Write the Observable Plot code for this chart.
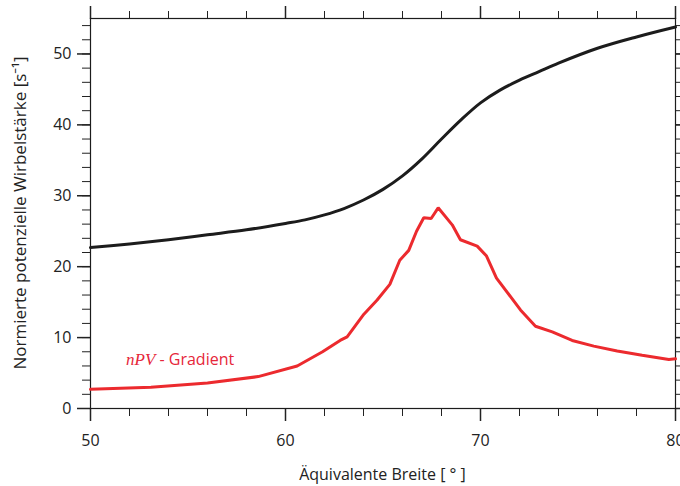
<!DOCTYPE html>
<html><head><meta charset="utf-8">
<script src="https://cdn.jsdelivr.net/npm/d3@7"></script>
<script src="https://cdn.jsdelivr.net/npm/@observablehq/plot@0.6"></script>
<style>body{margin:0;background:#fff;overflow:hidden}</style>
</head><body><div id="chart"></div>
<script>
// Normierte potenzielle Wirbelstärke (schwarz)
const pvLat = [50, 52, 54, 56, 58, 60, 61, 62, 63, 64, 65, 66, 67, 68, 69, 70, 71, 72, 73, 74, 76, 78, 80];
const pvValue = [22.7, 23.2, 23.8, 24.5, 25.2, 26.1, 26.6, 27.3, 28.2, 29.4, 30.9, 32.8, 35.2, 38.0, 40.7, 43.1, 44.9, 46.3, 47.5, 48.7, 50.8, 52.4, 53.8];
// nPV-Gradient (rot)
const gradLat = [50.0, 53.1, 56.0, 58.6, 60.6, 61.9, 62.8, 63.16, 64.02, 64.70, 65.35, 65.86, 66.32, 66.72, 67.09, 67.47, 67.83, 68.55, 68.97, 69.83, 70.31, 70.82, 72.05, 72.82, 73.68, 74.70, 75.81, 77.01, 78.29, 79.66, 80.0];
const gradValue = [2.7, 3.0, 3.6, 4.5, 6.0, 8.0, 9.6, 10.1, 13.3, 15.3, 17.5, 20.9, 22.3, 25.0, 26.9, 26.8, 28.3, 25.9, 23.8, 22.9, 21.5, 18.4, 13.9, 11.6, 10.8, 9.6, 8.8, 8.1, 7.5, 6.9, 7.0];

const xMajorTicks = [50, 60, 70, 80];
const xMinorTicks = [50, 52, 54, 56, 58, 60, 62, 64, 66, 68, 70, 72, 74, 76, 78, 80];
const yMajorTicks = [0, 10, 20, 30, 40, 50];
const yMinorTicks = [0, 2, 4, 6, 8, 10, 12, 14, 16, 18, 20, 22, 24, 26, 28, 30, 32, 34, 36, 38, 40, 42, 44, 46, 48, 50, 52, 54];

const xTitle = "Äquivalente Breite [ ° ]";
const yTitle = "Normierte potenzielle Wirbelstärke [s⁻¹]";
const labelItalic = "nPV";
const labelRest = " - Gradient";
const labelPos = {x: 51.85, y: 6.0};

const RED = "#ec2a2e";
const LABEL_RED = "#e6263a";
const INK = "#1c1c1c";
const FONT = "'Open Sans', 'Noto Sans', sans-serif";

const pvData = pvLat.map((x, i) => ({x, y: pvValue[i]}));
const gradData = gradLat.map((x, i) => ({x, y: gradValue[i]}));

function gradientLabel(index, scales) {
  const t = d3.create("svg:text")
    .attr("x", scales.x(labelPos.x))
    .attr("y", scales.y(labelPos.y))
    .attr("text-anchor", "start")
    .attr("fill", LABEL_RED)
    .attr("font-family", FONT)
    .attr("font-size", 16);
  t.append("tspan")
    .attr("font-family", "'Liberation Serif', 'DejaVu Serif', serif")
    .attr("font-style", "italic")
    .attr("font-size", 17)
    .text(labelItalic);
  t.append("tspan").text(labelRest);
  return t.node();
}

function axisTitles(index, scales, values, dimensions) {
  const {width, height, marginLeft, marginRight, marginTop, marginBottom} = dimensions;
  const g = d3.create("svg:g").attr("fill", "#222").attr("font-family", FONT).attr("text-anchor", "middle");
  g.append("text")
    .attr("x", (marginLeft + width - marginRight) / 2)
    .attr("y", height - 6)
    .attr("font-size", 16)
    .text(xTitle);
  g.append("text")
    .attr("transform", `translate(26,${(marginTop + height - marginBottom) / 2}) rotate(-90)`)
    .attr("font-size", 17)
    .text(yTitle);
  return g.node();
}

const chart = Plot.plot({
  width: 680,
  height: 486,
  marginLeft: 90,
  marginRight: 5,
  marginTop: 18,
  marginBottom: 78,
  style: {fontFamily: FONT, fontSize: "16px", color: "#222", background: "#fff"},
  x: {domain: [50, 80]},
  y: {domain: [0, 55]},
  marks: [
    // minor ticks
    Plot.axisX({anchor: "bottom", ticks: xMinorTicks, tickSize: 8, text: null, label: null}),
    Plot.axisX({anchor: "top", ticks: xMinorTicks, tickSize: 8, text: null, label: null}),
    Plot.axisY({anchor: "left", ticks: yMinorTicks, tickSize: 8, text: null, label: null}),
    Plot.axisY({anchor: "right", ticks: yMinorTicks, tickSize: 8, text: null, label: null}),
    // major ticks
    Plot.axisX({anchor: "bottom", ticks: xMajorTicks, tickSize: 13, tickPadding: 13, strokeWidth: 1.5, label: null}),
    Plot.axisX({anchor: "top", ticks: xMajorTicks, tickSize: 13, text: null, label: null, strokeWidth: 1.5}),
    Plot.axisY({anchor: "left", ticks: yMajorTicks, tickSize: 13, tickPadding: 6, strokeWidth: 1.5, label: null}),
    Plot.axisY({anchor: "right", ticks: yMajorTicks, tickSize: 13, text: null, label: null, strokeWidth: 1.5}),
    Plot.frame({stroke: INK, strokeWidth: 1.2}),
    Plot.line(pvData, {x: "x", y: "y", stroke: INK, strokeWidth: 3, curve: "catmull-rom"}),
    Plot.line(gradData, {x: "x", y: "y", stroke: RED, strokeWidth: 3, strokeLinejoin: "miter"}),
    gradientLabel,
    axisTitles
  ]
});
document.getElementById("chart").appendChild(chart);
</script>
</body></html>
